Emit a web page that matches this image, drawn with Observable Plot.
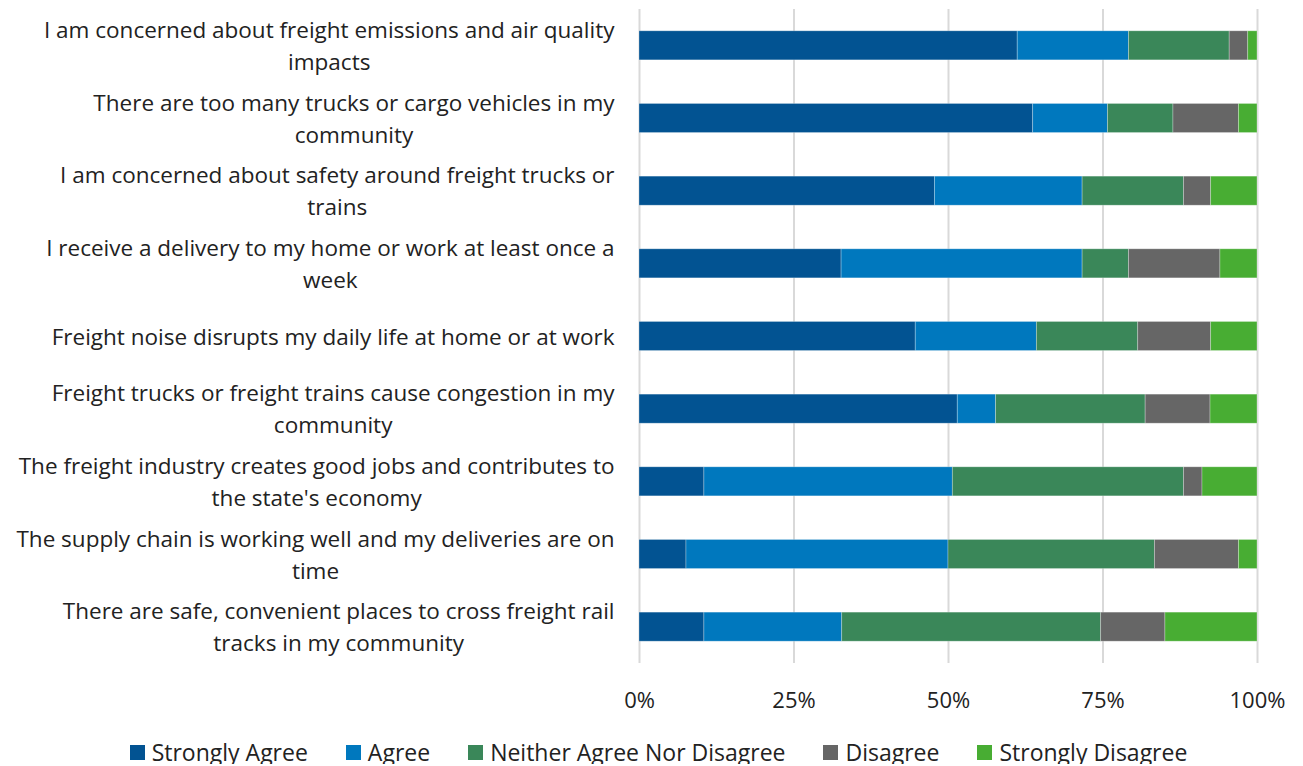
<!DOCTYPE html>
<html>
<head>
<meta charset="utf-8">
<script src="https://cdn.jsdelivr.net/npm/d3@7"></script>
<script src="https://cdn.jsdelivr.net/npm/@observablehq/plot@0.6"></script>
<style>
  html, body { margin: 0; padding: 0; background: #fff; }
  #chart { width: 1303px; height: 720px; }
  #legend { display: flex; justify-content: center; align-items: center; margin-top: 20px; height: 24px; padding-left: 14px;
    font-family: "Open Sans", sans-serif; font-size: 23px; color: #222; white-space: nowrap; }
  .item { display: flex; align-items: center; margin: 0 19px; }
  .sw { width: 15px; height: 15px; margin-right: 7px; }
</style>
</head>
<body>
<div id="chart"></div>
<div id="legend"></div>
<script>
// Category labels (as wrapped in the reference)
const categoryLines = [
  ["I am concerned about freight emissions and air quality", "impacts"],
  ["There are too many trucks or cargo vehicles in my", "community"],
  ["I am concerned about safety around freight trucks or", "trains"],
  ["I receive a delivery to my home or work at least once a", "week"],
  ["Freight noise disrupts my daily life at home or at work"],
  ["Freight trucks or freight trains cause congestion in my", "community"],
  ["The freight industry creates good jobs and contributes to", "the state's economy"],
  ["The supply chain is working well and my deliveries are on", "time"],
  ["There are safe, convenient places to cross freight rail", "tracks in my community"]
];
const categories = categoryLines.map(l => l.join(" "));

const responses = ["Strongly Agree", "Agree", "Neither Agree Nor Disagree", "Disagree", "Strongly Disagree"];
const colors = ["#025392", "#0078be", "#3a8759", "#666666", "#48ad33"];

// Percent values per category (order as categories)
const stronglyAgree = [61.2, 63.7, 47.8, 32.7, 44.7, 51.5, 10.5, 7.6, 10.5];
const agree         = [18.0, 12.1, 23.9, 39.0, 19.6,  6.2, 40.2, 42.4, 22.3];
const neither       = [16.3, 10.6, 16.4,  7.5, 16.4, 24.2, 37.4, 33.4, 41.9];
const disagree      = [ 3.0, 10.6,  4.4, 14.8, 11.8, 10.5,  3.0, 13.6, 10.4];
const stronglyDis   = [ 1.5,  3.0,  7.5,  6.0,  7.5,  7.6,  8.9,  3.0, 14.9];

const xTicks = [0, 25, 50, 75, 100];

const series = [stronglyAgree, agree, neither, disagree, stronglyDis];
const data = [];
categories.forEach((c, i) => {
  responses.forEach((r, j) => data.push({category: c, response: r, value: series[j][i]}));
});

const FONT = '"Open Sans", sans-serif';
const FS = 22.5;
const ctx = document.createElement("canvas").getContext("2d");
ctx.font = `${FS}px "Open Sans"`;
const labelData = [];
categoryLines.forEach((lines, i) => {
  const w = Math.max(...lines.map(l => ctx.measureText(l).width));
  lines.forEach((t, k) => labelData.push({
    category: categories[i], text: t,
    dy: (k - (lines.length - 1) / 2) * 32 + 1,
    dx: -25 - w / 2
  }));
});

const plot = Plot.plot({
  width: 1303,
  height: 720,
  marginLeft: 639,
  marginRight: 46,
  marginTop: 9,
  marginBottom: 57,
  style: {fontFamily: FONT, fontSize: FS + "px", color: "#222", background: "#fff"},
  x: {domain: [0, 100], ticks: xTicks, tickFormat: d => d + "%", label: null},
  y: {domain: categories, paddingInner: 0.6, paddingOuter: 0.3, round: false, axis: null, label: null},
  color: {domain: responses, range: colors},
  marks: [
    Plot.gridX(xTicks, {stroke: "#d9d9d9", strokeOpacity: 1, strokeWidth: 2}),
    Plot.barX(data, Plot.stackX({x: "value", y: "category", fill: "response", z: "response", stroke: "#ffffff", strokeOpacity: 0.35, strokeWidth: 0.8})),
    Plot.axisX(xTicks, {tickSize: 0, tickPadding: 29, tickFormat: d => d + "%", fontSize: 22, label: null, fill: "#222"}),
    ...labelData.map(d => Plot.text([d], {x: () => 0, y: "category", text: "text", dx: d.dx, dy: d.dy, textAnchor: "middle", fontSize: FS, fill: "#222"}))
  ]
});
document.getElementById("chart").appendChild(plot);

const legend = document.getElementById("legend");
responses.forEach((r, i) => {
  const it = document.createElement("div");
  it.className = "item";
  it.innerHTML = `<div class="sw" style="background:${colors[i]}"></div><span>${r}</span>`;
  legend.appendChild(it);
});
</script>
</body>
</html>
